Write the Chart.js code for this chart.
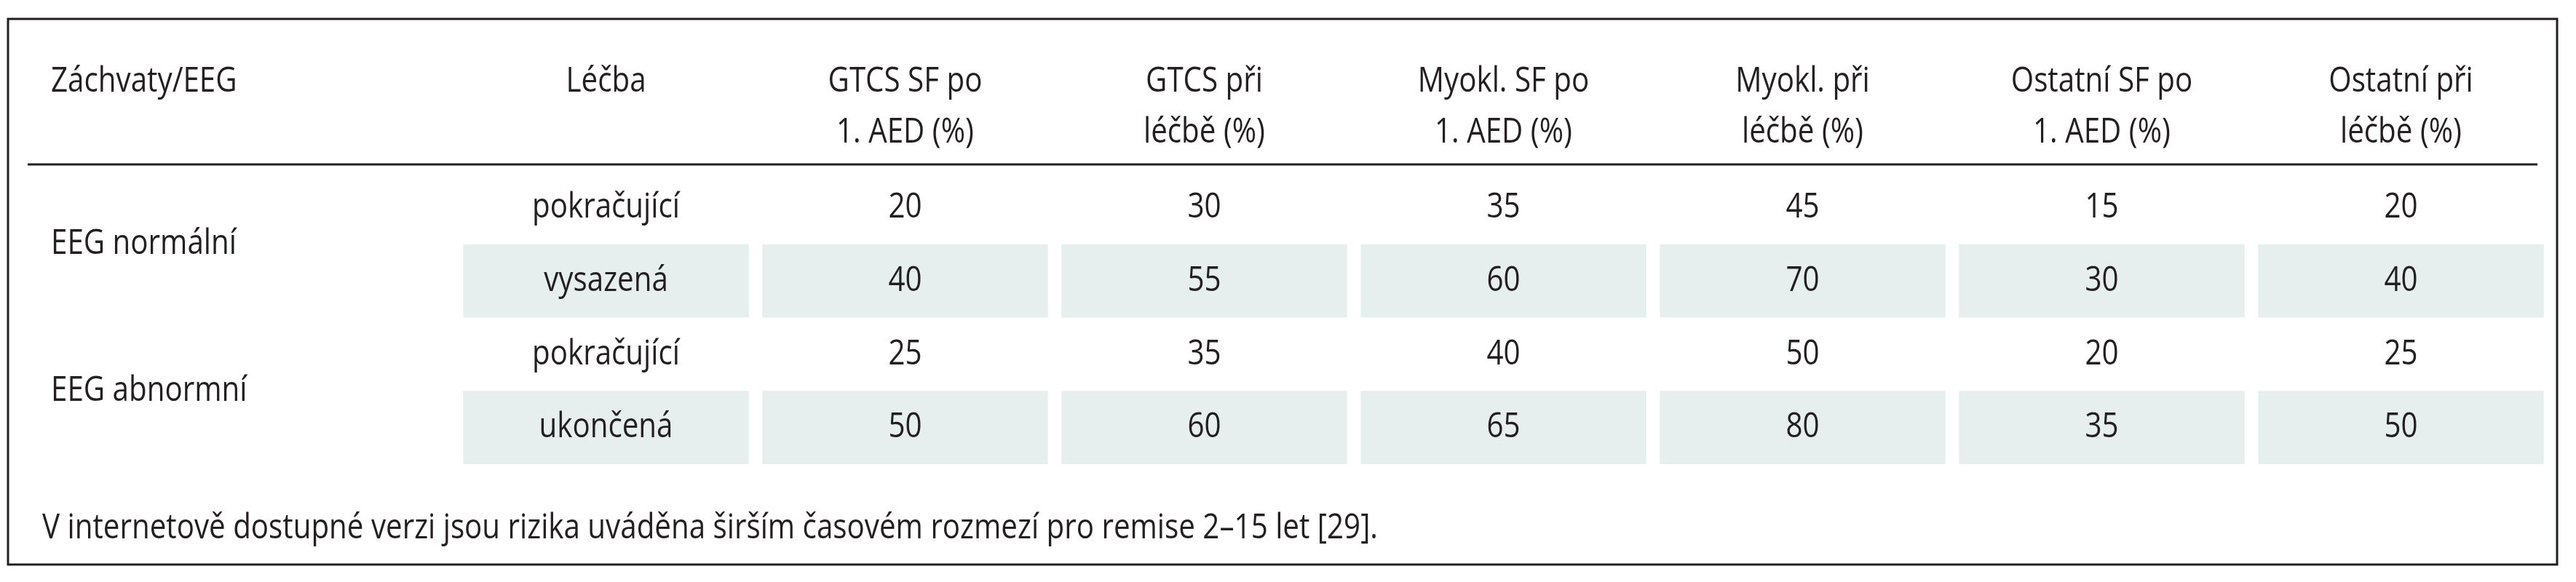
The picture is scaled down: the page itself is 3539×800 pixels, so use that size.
<!DOCTYPE html>
<html>
<head>
<meta charset="utf-8">
<script src="https://cdn.jsdelivr.net/npm/chart.js@4/dist/chart.umd.min.js"></script>
<style>
  body { margin: 0; background: #fff; }
  #wrap { width: 3539px; height: 800px; }
</style>
</head>
<body>
<div id="wrap"><canvas id="tbl"></canvas></div>
<script>
'use strict';
var headerTop = ['GTCS SF po', 'GTCS při', 'Myokl. SF po', 'Myokl. při', 'Ostatní SF po', 'Ostatní při'];
var headerBottom = ['1. AED (%)', 'léčbě (%)', '1. AED (%)', 'léčbě (%)', '1. AED (%)', 'léčbě (%)'];
var groups = ['EEG normální', 'EEG abnormní'];
var treatments = ['pokračující', 'vysazená', 'pokračující', 'ukončená'];
var gtcsSF = [20, 40, 25, 50];
var gtcsTreat = [30, 55, 35, 60];
var myoSF = [35, 60, 40, 65];
var myoTreat = [45, 70, 50, 80];
var otherSF = [15, 30, 20, 35];
var otherTreat = [20, 40, 25, 50];
var shadedRows = [1, 3];
var footnote = 'V internetově dostupné verzi jsou rizika uváděna širším časovém rozmezí pro remise 2–15 let [29].';

var columns = [treatments, gtcsSF, gtcsTreat, myoSF, myoTreat, otherSF, otherTreat];
var colLabels = ['Léčba'].concat(headerTop);
var FONT = '48px "Open Sans", sans-serif';
var INK = '#231f20';
var SQUEEZE = 0.84;

var datasets = shadedRows.map(function(r) {
    return {
        data: colLabels.map(function() { return [r, r + 1]; }),
        backgroundColor: '#e6efed',
        barPercentage: 0.955,
        categoryPercentage: 1,
        grouped: false
    };
});

function text(ctx, s, x, y) {
    ctx.save();
    ctx.translate(x, y);
    ctx.scale(SQUEEZE, 1);
    ctx.fillText(s, 0, 0);
    ctx.restore();
}

var tablePlugin = {
    id: 'tableText',
    afterDatasetsDraw: function(chart) {
        var ctx = chart.ctx, x = chart.scales.x, y = chart.scales.y;
        ctx.save();
        ctx.fillStyle = INK;
        ctx.font = FONT;
        ctx.textBaseline = 'middle';
        // header
        ctx.textAlign = 'left';
        text(ctx, 'Záchvaty/EEG', 70, 112);
        ctx.textAlign = 'center';
        text(ctx, 'Léčba', x.getPixelForValue(0), 112);
        headerTop.forEach(function(t, i) {
            text(ctx, t, x.getPixelForValue(i + 1), 112);
            text(ctx, headerBottom[i], x.getPixelForValue(i + 1), 182);
        });
        // body
        columns.forEach(function(col, c) {
            col.forEach(function(v, r) {
                text(ctx, String(v), x.getPixelForValue(c), y.getPixelForValue(r + 0.5));
            });
        });
        ctx.textAlign = 'left';
        groups.forEach(function(g, i) {
            text(ctx, g, 70, y.getPixelForValue(i * 2 + 1));
        });
        text(ctx, footnote, 58, 726);
        // rules
        ctx.strokeStyle = INK;
        ctx.lineWidth = 3;
        ctx.beginPath();
        ctx.moveTo(38, 226); ctx.lineTo(3486, 226);
        ctx.stroke();
        ctx.strokeRect(11, 26, 3502, 750);
        ctx.restore();
    }
};

new Chart(document.getElementById('tbl'), {
    type: 'bar',
    data: { labels: colLabels, datasets: datasets },
    options: {
        responsive: true,
        maintainAspectRatio: false,
        animation: false,
        layout: { padding: { left: 627, right: 35, top: 235, bottom: 162 } },
        plugins: { legend: { display: false }, tooltip: { enabled: false } },
        scales: {
            x: { type: 'category', display: false },
            y: { type: 'linear', min: 0, max: 4, reverse: true, display: false }
        }
    },
    plugins: [tablePlugin]
});
</script>
</body>
</html>
